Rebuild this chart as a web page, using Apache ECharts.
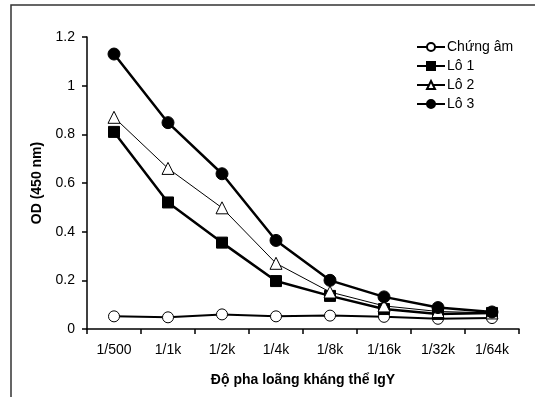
<!DOCTYPE html>
<html>
<head>
<meta charset="utf-8">
<script src="https://cdn.jsdelivr.net/npm/echarts@6/dist/echarts.min.js"></script>
<style>
  html, body { margin: 0; padding: 0; background: #fff; }
  #box { width: 535px; height: 397px; }
</style>
</head>
<body>
<div id="box"></div>
<script>
// nhãn trục x (độ pha loãng)
var dilutions = ['1/500', '1/1k', '1/2k', '1/4k', '1/8k', '1/16k', '1/32k', '1/64k'];
var yTicks = [0, 0.2, 0.4, 0.6, 0.8, 1, 1.2];

// giá trị OD
var chungAm = [0.052, 0.048, 0.060, 0.052, 0.055, 0.050, 0.042, 0.045];
var lo1 = [0.81, 0.52, 0.355, 0.197, 0.136, 0.082, 0.062, 0.066];
var lo2 = [0.87, 0.66, 0.498, 0.27, 0.152, 0.095, 0.072, 0.066];
var lo3 = [1.13, 0.848, 0.638, 0.364, 0.2, 0.132, 0.088, 0.07];

var myChart = echarts.init(document.getElementById('box'));

var font = 'Liberation Sans, Arial, sans-serif';

function makeSeries(name, data, symbol, size, fill, width) {
	return {
		name: name,
		type: 'line',
		data: data,
		symbol: symbol,
		symbolSize: size,
		showAllSymbol: true,
		lineStyle: { color: '#000', width: width },
		itemStyle: { color: fill, borderColor: '#000', borderWidth: 1 },
		emphasis: { disabled: true },
		animation: false
	};
}

var option = {
	animation: false,
	grid: { left: 87, right: 16, top: 37, bottom: 68 },
	graphic: [{
		type: 'rect',
		shape: { x: 11, y: 5, width: 600, height: 500 },
		style: { fill: 'none', stroke: '#333', lineWidth: 1.5 },
		silent: true
	}],
	legend: {
		orient: 'vertical',
		left: 411,
		top: 35,
		itemWidth: 28,
		itemHeight: 10,
		itemGap: 5,
		textStyle: { fontFamily: font, fontSize: 14, color: '#000', padding: [0, 0, 0, -3] },
		data: ['Chứng âm', 'Lô 1', 'Lô 2', 'Lô 3']
	},
	xAxis: {
		type: 'category',
		data: dilutions,
		name: 'Độ pha loãng kháng thể IgY',
		nameLocation: 'middle',
		nameGap: 44,
		nameTextStyle: { fontFamily: font, fontSize: 14, fontWeight: 'bold', color: '#000' },
		axisLine: { lineStyle: { color: '#000', width: 1.5 } },
		axisTick: { show: true, length: 5, inside: false, lineStyle: { color: '#000', width: 1.5 } },
		axisLabel: { fontFamily: font, fontSize: 14, color: '#000', margin: 14 }
	},
	yAxis: {
		type: 'value',
		min: yTicks[0],
		max: yTicks[yTicks.length - 1],
		interval: 0.2,
		name: 'OD (450 nm)',
		nameLocation: 'middle',
		nameRotate: 90,
		nameGap: 41,
		nameTextStyle: { fontFamily: font, fontSize: 14, fontWeight: 'bold', color: '#000' },
		splitLine: { show: false },
		axisLine: { show: true, lineStyle: { color: '#000', width: 1.5 } },
		axisTick: { show: true, length: 5, lineStyle: { color: '#000', width: 1.5 } },
		axisLabel: { fontFamily: font, fontSize: 14, color: '#000', margin: 12 }
	},
	series: [
		makeSeries('Chứng âm', chungAm, 'circle', 11, '#fff', 2),
		makeSeries('Lô 1', lo1, 'rect', 11, '#000', 2.5),
		makeSeries('Lô 2', lo2, 'triangle', 12, '#fff', 1),
		makeSeries('Lô 3', lo3, 'circle', 12, '#000', 2.5)
	]
};

myChart.setOption(option);
</script>
</body>
</html>
